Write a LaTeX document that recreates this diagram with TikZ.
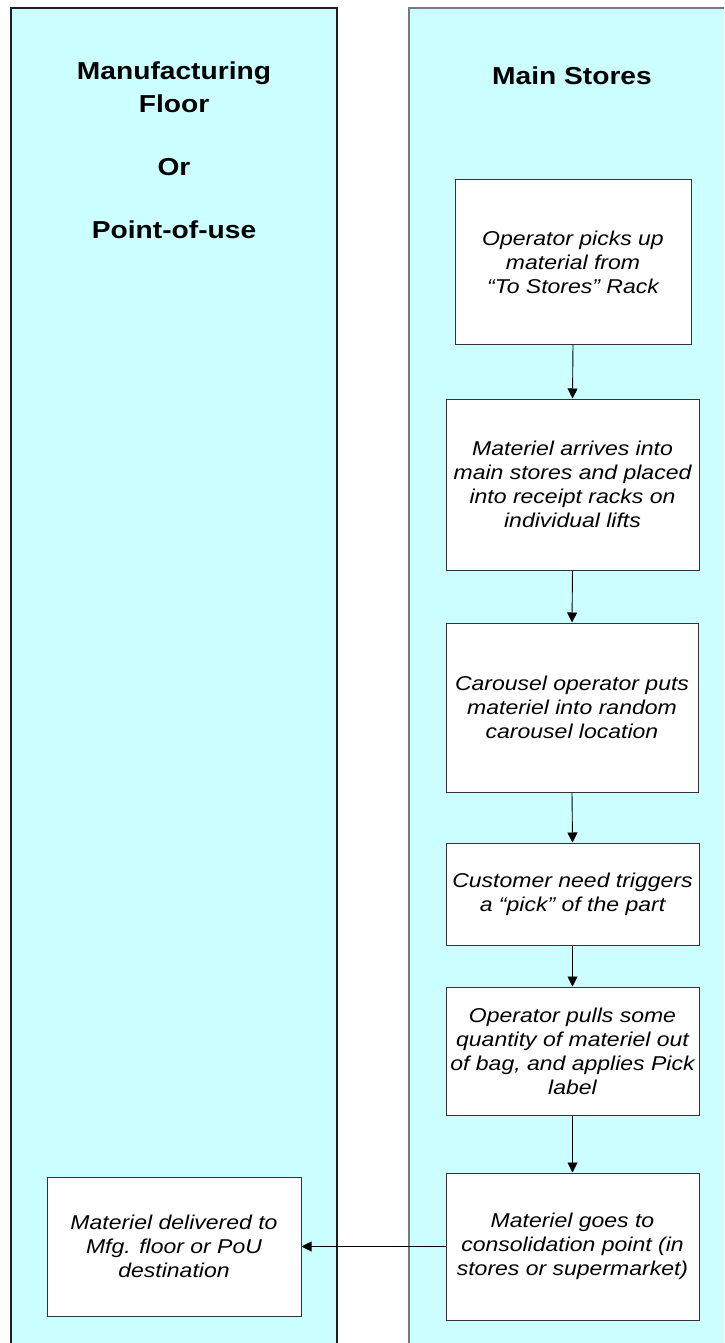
\documentclass[tikz,border=0pt]{standalone}
\usepackage{fontspec}
\setmainfont{Liberation Sans}[FakeStretch=1.15]
\usetikzlibrary{arrows.meta}
\definecolor{lanefill}{HTML}{CCFFFF}
\definecolor{lanedark}{HTML}{1E1E1E}
\definecolor{lanegrey}{HTML}{7A7A7A}
\definecolor{boxline}{HTML}{333333}
\tikzset{
  lane/.style={fill=lanefill, line width=1.2pt},
  title/.style={font=\fontsize{24.5}{31.3}\selectfont\bfseries, anchor=center, inner sep=0pt},
  stepbox/.style={draw=boxline, fill=white, line width=1pt, align=center, inner sep=0pt,
    font=\fontsize{20}{24}\selectfont\itshape},
  flow/.style={-{Triangle[length=10pt,width=10pt]}, line width=0.9pt, black}
}
\begin{document}
\begin{tikzpicture}[x=1pt,y=-1pt]
\clip (0,0) rectangle (724,1343);
\fill[white] (0,0) rectangle (724,1343);
% lanes
\draw[lane, draw=lanedark] (11,8) rectangle (337,1400);
\draw[lane, draw=lanegrey] (409,8) rectangle (737,1400);
% lane titles
\node[title] (t1a) at (174,73) {Manufacturing};
\node[title] (t1b) at (174,104) {Floor};
\node[title] (t1c) at (174,167) {Or};
\node[title] (t1d) at (174,230) {Point-of-use};
\node[title] (t2) at (572,76) {Main Stores};
% boxes
\node[stepbox, minimum width=236pt, minimum height=164pt] (b1) at (573,262)
  {Operator picks up\\material from\\“To Stores” Rack};
\node[stepbox, minimum width=253pt, minimum height=171pt] (b2) at (572.5,484.5)
  {Materiel arrives into\\main stores and placed\\into receipt racks on\\individual lifts};
\node[stepbox, minimum width=252pt, minimum height=169pt] (b3) at (572,707.5)
  {Carousel operator puts\\materiel into random\\carousel location};
\node[stepbox, minimum width=253pt, minimum height=102pt] (b4) at (572.5,894)
  {Customer need triggers\\a “pick” of the part};
\node[stepbox, minimum width=253pt, minimum height=128pt] (b5) at (572.5,1051)
  {Operator pulls some\\quantity of materiel out\\of bag, and applies Pick\\label};
\node[stepbox, minimum width=253pt, minimum height=147pt] (b6) at (572.5,1246.5)
  {Materiel goes to\\consolidation point (in\\stores or supermarket)};
\node[stepbox, minimum width=254pt, minimum height=139pt] (b7) at (174,1246.5)
  {Materiel delivered to\\Mfg. floor or PoU\\destination};
% connectors
\draw[flow] (b1.south) -- (b2.north);
\draw[flow] (b2.south) -- (b3.north);
\draw[flow] (b3.south) -- (b4.north);
\draw[flow] (b4.south) -- (b5.north);
\draw[flow] (b5.south) -- (b6.north);
\draw[flow] (b6.west) -- (b7.east);
\end{tikzpicture}
\end{document}
